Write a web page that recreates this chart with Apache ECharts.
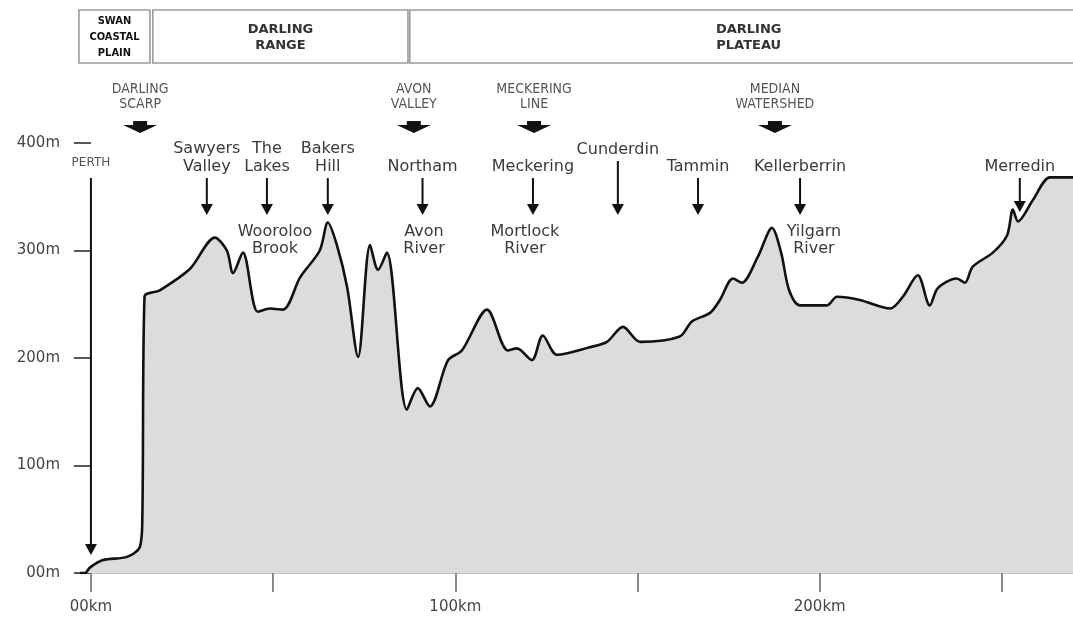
<!DOCTYPE html>
<html>
<head>
<meta charset="utf-8">
<script src="https://cdn.jsdelivr.net/npm/echarts@6/dist/echarts.min.js"></script>
<style>
html,body{margin:0;padding:0;background:#fff;}
#chart{width:1073px;height:619px;}
</style>
</head>
<body>
<div id="chart"></div>
<script>
// ---- Data ----
const profileKm = [-3.0, -1.6, -0.3, 3.3, 9.9, 13.4, 14.1, 14.7, 18.9, 27.2, 34.0, 37.3, 39.0, 41.7, 45.8, 49.1, 52.7, 57.4, 62.8, 65.0, 67.5, 70.3, 73.3, 76.6, 78.8, 81.2, 86.7, 89.7, 93.0, 98.0, 101.8, 108.7, 114.4, 116.9, 121.0, 124.0, 127.9, 136.9, 141.6, 146.0, 150.7, 161.6, 164.9, 169.9, 172.6, 176.2, 178.6, 183.0, 186.9, 189.4, 191.6, 194.6, 202.0, 204.7, 211.0, 219.3, 222.8, 226.9, 230.2, 232.4, 237.6, 239.8, 242.0, 247.5, 251.4, 253.0, 254.4, 258.5, 263.2, 269.5];
const profileElev = [0, 0, 5, 12, 15, 24, 50, 257, 263, 283, 312, 300, 279, 298, 243, 246, 245, 275, 300, 326, 305, 266, 201, 305, 282, 298, 152, 172, 155, 198, 207, 245, 207, 209, 198, 221, 203, 210, 215, 229, 215, 220, 234, 242, 254, 274, 270, 294, 321, 298, 263, 249, 249, 257, 254, 246, 257, 277, 249, 265, 274, 270, 285, 298, 314, 338, 327, 347, 368, 368];

const yTicks = [0, 100, 200, 300, 400];
const xTicks = [0, 50, 100, 150, 200, 250];
const xLabels = [0, 100, 200];

const regionNames = ['SWAN\nCOASTAL\nPLAIN', 'DARLING\nRANGE', 'DARLING\nPLATEAU'];
const regionFromKm = [-3.3, 17.0, 87.5];
const regionToKm = [16.2, 87.0, 273.5];

const featureNames = ['DARLING\nSCARP', 'AVON\nVALLEY', 'MECKERING\nLINE', 'MEDIAN\nWATERSHED'];
const featureKm = [13.5, 88.6, 121.6, 187.7];

const townNames = ['PERTH', 'Sawyers\nValley', 'The\nLakes', 'Bakers\nHill', 'Northam', 'Meckering', 'Cunderdin', 'Tammin', 'Kellerberrin', 'Merredin'];
const townKm = [0, 31.8, 48.3, 65.0, 91.0, 121.3, 144.6, 166.6, 194.6, 254.9];

const riverNames = ['Wooroloo\nBrook', 'Avon\nRiver', 'Mortlock\nRiver', 'Yilgarn\nRiver'];
const riverKm = [50.5, 91.4, 119.1, 198.4];

// ---- Layout (pixels, style only) ----
const HEADER_TOP = 10, HEADER_H = 53;
const FEATURE_TEXT_BOTTOM = 112, FEATURE_ARROW_TOP = 121;
const TOWN_ARROW_TOP = 178, TOWN_ARROW_TIP = 215;
const townArrowOverride = { 'PERTH': { top: 178, tip: 555 }, 'Cunderdin': { top: 161, tip: 215 }, 'Merredin': { top: 178, tip: 212 } };
const RIVER_TEXT_TOP = 223;

const chart = echarts.init(document.getElementById('chart'), null, { renderer: 'canvas' });

const lineData = profileKm.map((k, i) => [k, profileElev[i]]);

function xPix(api, km) { return api.coord([km, 0])[0]; }

const option = {
  animation: false,
  backgroundColor: '#ffffff',
  grid: { left: 80, right: 0, top: 143, bottom: 46, containLabel: false },
  xAxis: {
    type: 'value', min: -3, max: 269.5,
    axisLine: { show: true, lineStyle: { color: '#c4c4c4', width: 2 } },
    axisTick: { show: true, length: 19, customValues: xTicks, lineStyle: { color: '#8a8a8a', width: 2 } },
    axisLabel: { show: true, customValues: xLabels, margin: 27, color: '#444', fontFamily: 'DejaVu Sans', fontSize: 15,
      formatter: v => (v === 0 ? '00' : String(v)) + 'km' },
    splitLine: { show: false }
  },
  yAxis: {
    type: 'value', min: 0, max: 400, interval: 100,
    axisLine: { show: false },
    axisTick: { show: true, length: 17, lineStyle: { color: '#222', width: 1.5 } },
    axisLabel: { show: true, margin: 20, color: '#444', fontFamily: 'DejaVu Sans', fontSize: 15,
      formatter: v => (v === 0 ? '00' : String(v)) + 'm' },
    splitLine: { show: false }
  },
  series: [
    {
      type: 'line', data: lineData, showSymbol: false, symbol: 'none',
      smooth: 0.3,
      lineStyle: { color: '#111', width: 2.6 },
      areaStyle: { color: '#dcdcdc', opacity: 1 },
      z: 2, silent: true
    },
    {
      // header region boxes
      type: 'custom', coordinateSystem: 'cartesian2d', clip: false, silent: true, z: 5,
      data: regionNames.map((n, i) => [regionFromKm[i], regionToKm[i]]),
      renderItem: function (params, api) {
        const i = params.dataIndex;
        const x1 = xPix(api, api.value(0)), x2 = xPix(api, api.value(1));
        const first = i === 0;
        return {
          type: 'group', children: [
            { type: 'rect', shape: { x: x1, y: HEADER_TOP, width: x2 - x1, height: HEADER_H },
              style: { fill: 'none', stroke: '#9a9a9a', lineWidth: 1.6 } },
            { type: 'text', style: {
                text: regionNames[i], x: (x1 + x2) / 2,
                y: HEADER_TOP + HEADER_H / 2 + 1, align: 'center', verticalAlign: 'middle',
                font: first ? 'bold 11px "DejaVu Sans Condensed", sans-serif' : 'bold 13px "DejaVu Sans", sans-serif',
                lineHeight: 16, fill: first ? '#111' : '#333' } }
          ]
        };
      }
    },
    {
      // named landforms with block arrows
      type: 'custom', coordinateSystem: 'cartesian2d', clip: false, silent: true, z: 5,
      data: featureKm.map(k => [k, 0]),
      renderItem: function (params, api) {
        const i = params.dataIndex;
        const x = xPix(api, api.value(0));
        const t = FEATURE_ARROW_TOP;
        return {
          type: 'group', children: [
            { type: 'text', style: { text: featureNames[i], x: x, y: FEATURE_TEXT_BOTTOM, align: 'center', verticalAlign: 'bottom',
                font: '14px "DejaVu Sans Condensed", sans-serif', lineHeight: 15, fill: '#555' } },
            { type: 'polygon', shape: { points: [[x - 7, t], [x + 7, t], [x + 7, t + 4], [x + 17, t + 4], [x, t + 12], [x - 17, t + 4], [x - 7, t + 4]] },
              style: { fill: '#111' } }
          ]
        };
      }
    },
    {
      // towns with arrows
      type: 'custom', coordinateSystem: 'cartesian2d', clip: false, silent: true, z: 6,
      data: townKm.map(k => [k, 0]),
      renderItem: function (params, api) {
        const i = params.dataIndex;
        const name = townNames[i];
        const x = xPix(api, api.value(0));
        const o = townArrowOverride[name] || { top: TOWN_ARROW_TOP, tip: TOWN_ARROW_TIP };
        const small = name === 'PERTH';
        return {
          type: 'group', children: [
            { type: 'text', style: { text: name, x: x, y: o.top - (small ? 6 : 2), align: 'center', verticalAlign: 'bottom',
                font: small ? '12px "DejaVu Sans", sans-serif' : '16px "DejaVu Sans", sans-serif', lineHeight: 18,
                fill: small ? '#555' : '#3a3a3a' } },
            { type: 'line', shape: { x1: x, y1: o.top, x2: x, y2: o.tip - 8 }, style: { stroke: '#111', lineWidth: 2 } },
            { type: 'polygon', shape: { points: [[x - 6, o.tip - 11], [x + 6, o.tip - 11], [x, o.tip]] }, style: { fill: '#111' } }
          ]
        };
      }
    },
    {
      // rivers / brooks
      type: 'custom', coordinateSystem: 'cartesian2d', clip: false, silent: true, z: 6,
      data: riverKm.map(k => [k, 0]),
      renderItem: function (params, api) {
        const i = params.dataIndex;
        const x = xPix(api, api.value(0));
        return { type: 'text', style: { text: riverNames[i], x: x, y: RIVER_TEXT_TOP, align: 'center', verticalAlign: 'top',
            font: '16px "DejaVu Sans", sans-serif', lineHeight: 17, fill: '#3a3a3a' } };
      }
    }
  ]
};
chart.setOption(option);
</script>
</body>
</html>
